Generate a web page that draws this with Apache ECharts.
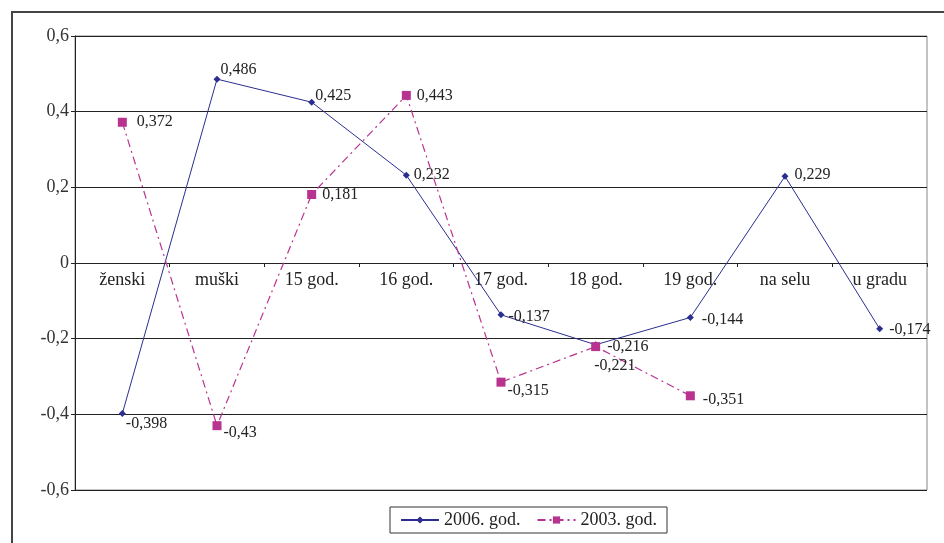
<!DOCTYPE html>
<html><head><meta charset="utf-8">
<script src="https://cdn.jsdelivr.net/npm/echarts@6/dist/echarts.min.js"></script>
<style>html,body{margin:0;padding:0;background:#fff}#c{width:944px;height:543px}</style>
</head><body><div id="c"></div>
<script>
var categories = ['ženski','muški','15 god.','16 god.','17 god.','18 god.','19 god.','na selu','u gradu'];
var values2006 = [-0.398, 0.486, 0.425, 0.232, -0.137, -0.216, -0.144, 0.229, -0.174];
var values2003 = [0.372, -0.43, 0.181, 0.443, -0.315, -0.221, -0.351, null, null];
var seriesNames = ['2006. god.', '2003. god.'];
var yTicks = [-0.6, -0.4, -0.2, 0, 0.2, 0.4, 0.6];

// label offsets (layout only)
var off2006 = [[-4,10],[-4,-9],[-4,-6],[0,0],[0,2],[4,2],[4,2],[2,-2],[2,1]];
var off2003 = [[6,0],[-2,7],[2,0],[2,0],[-2,9],[-10,19],[4,4],[0,0],[0,0]];

var FONT = '"Liberation Serif", "DejaVu Serif", serif';
function fmt(v){ return String(v).replace('.', ','); }
function build(vals, offs){
  return vals.map(function(v,i){
    if (v === null) return null;
    return {value: v, label: {offset: offs[i]}};
  });
}
var GRID_TOP = 36, GRID_BOTTOM = 53, H = 543;
var plotH = H - GRID_TOP - GRID_BOTTOM;
var zeroShift = plotH * (0 - yTicks[0]) / (yTicks[yTicks.length-1] - yTicks[0]);

var chart = echarts.init(document.getElementById('c'));
chart.setOption({
  animation: false,
  backgroundColor: '#fff',
  textStyle: {fontFamily: FONT},
  grid: {left: 75, right: 17, top: GRID_TOP, bottom: GRID_BOTTOM, show: true, borderColor: '#888', borderWidth: 1},
  graphic: [{type:'rect', shape:{x:12, y:12, width:960, height:560}, style:{fill:'none', stroke:'#444', lineWidth:2}, silent:true, z:-1}],
  legend: {
    bottom: 10, left: 390,
    data: seriesNames,
    borderColor: '#333', borderWidth: 1, borderRadius: 0,
    padding: [4, 10, 4, 10],
    itemWidth: 38, itemHeight: 9, itemGap: 16,
    textStyle: {fontFamily: FONT, fontSize: 18, color: '#222'}
  },
  xAxis: {
    type: 'category', data: categories, boundaryGap: true,
    position: 'bottom', offset: -zeroShift,
    axisLine: {onZero: false, lineStyle: {color: '#222', width: 1}},
    axisTick: {show: true, inside: false, length: 4, lineStyle: {color: '#222'}},
    axisLabel: {fontFamily: FONT, fontSize: 18, color: '#222', margin: 8, interval: 0},
    splitLine: {show: false}
  },
  yAxis: {
    type: 'value', min: -0.6, max: 0.6, interval: 0.2,
    axisLine: {show: true, lineStyle: {color: '#222'}},
    axisTick: {show: true, length: 4, lineStyle: {color: '#222'}},
    axisLabel: {fontFamily: FONT, fontSize: 18, color: '#333', margin: 6,
      formatter: function(v){ var r = Math.round(v*10)/10; return r===0 ? '0' : fmt(r); }},
    splitLine: {show: true, lineStyle: {color: '#222', width: 1}}
  },
  series: [
    {
      name: seriesNames[0], type: 'line', data: build(values2006, off2006),
      symbol: 'diamond', symbolSize: 7, showAllSymbol: true,
      itemStyle: {color: '#2B2E8F'},
      lineStyle: {color: '#2B2E8F', width: 1},
      label: {show: true, position: 'right', distance: 4, fontFamily: FONT, fontSize: 16, color: '#222',
        formatter: function(p){ return fmt(p.value); }},
      z: 3
    },
    {
      name: seriesNames[1], type: 'line', data: build(values2003, off2003),
      symbol: 'rect', symbolSize: 9, showAllSymbol: true, connectNulls: false,
      itemStyle: {color: '#B8338F'},
      lineStyle: {color: '#B8338F', width: 1.2, type: [8, 4, 2, 4]},
      label: {show: true, position: 'right', distance: 4, fontFamily: FONT, fontSize: 16, color: '#222',
        formatter: function(p){ return fmt(p.value); }},
      z: 4
    }
  ]
});
</script></body></html>
